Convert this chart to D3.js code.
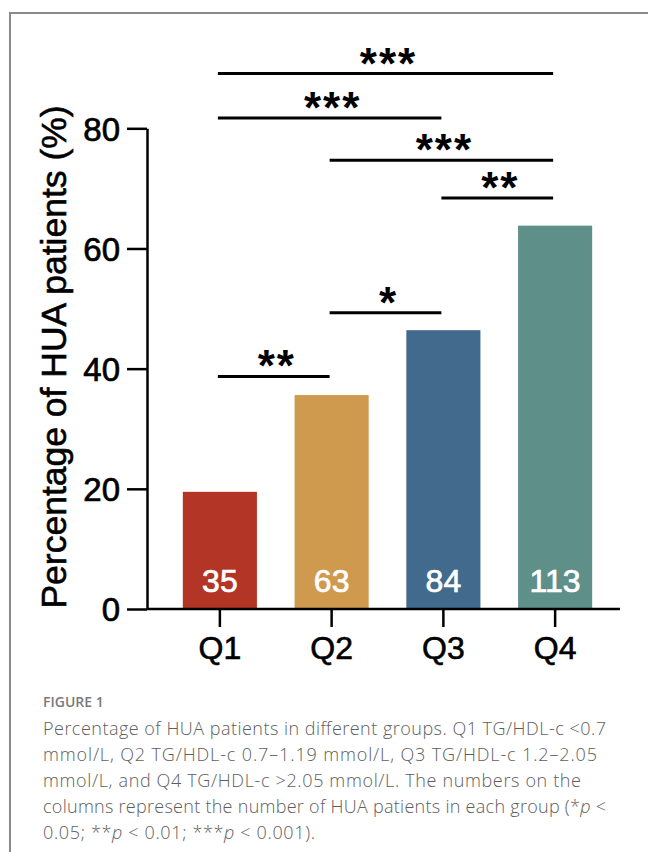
<!DOCTYPE html>
<html>
<head>
<meta charset="utf-8">
<script src="https://cdn.jsdelivr.net/npm/d3@7/dist/d3.min.js"></script>
<style>
  html, body { margin: 0; padding: 0; background: #fff; }
  svg { display: block; }
</style>
</head>
<body>
<svg id="chart" width="648" height="852"></svg>
<script>
// ---- data ----
const categories = ["Q1", "Q2", "Q3", "Q4"];
const percentages = [19.5, 35.6, 46.4, 63.8];
const counts = [35, 63, 84, 113];
const barColors = ["#B33526", "#CF994E", "#426A8D", "#5E9089"];
const yTicks = [0, 20, 40, 60, 80];
const yTitle = "Percentage of HUA patients (%)";
// significance brackets: from group, to group, level (in % units), label
const bracketFrom = ["Q1", "Q1", "Q2", "Q3", "Q2", "Q1"];
const bracketTo = ["Q4", "Q3", "Q4", "Q4", "Q3", "Q2"];
const bracketLevel = [89.1, 81.7, 74.7, 68.4, 49.3, 38.7];
const bracketLabel = ["***", "***", "***", "**", "*", "**"];
const captionTitle = "FIGURE 1";
const captionLines = [
  [["Percentage of HUA patients in different groups. Q1 TG/HDL-c <0.7", false]],
  [["mmol/L, Q2 TG/HDL-c 0.7\u20131.19 mmol/L, Q3 TG/HDL-c 1.2\u20132.05", false]],
  [["mmol/L, and Q4 TG/HDL-c >2.05 mmol/L. The numbers on the", false]],
  [["columns represent the number of HUA patients in each group (*", false], ["p", true], [" <", false]],
  [["0.05; **", false], ["p", true], [" < 0.01; ***", false], ["p", true], [" < 0.001).", false]]
];
const captionWidths = [563, 554, 538, 563, 272];

// ---- drawing ----
const svg = d3.select("#chart");
const font = "'Liberation Sans', Arial, Helvetica, sans-serif";

// frame
svg.append("rect")
  .attr("x", 10).attr("y", 13).attr("width", 700).attr("height", 900)
  .attr("fill", "none").attr("stroke", "#8a8a8a").attr("stroke-width", 2);

const x = d3.scaleBand()
  .domain(categories)
  .range([164, 611])
  .paddingInner(0.337)
  .paddingOuter(0.1685);

const y = d3.scaleLinear().domain([0, 80]).range([609, 128.3]);

const g = svg.append("g");

// bars
g.selectAll("rect.bar")
  .data(categories)
  .join("rect")
  .attr("class", "bar")
  .attr("x", d => x(d))
  .attr("width", x.bandwidth())
  .attr("y", (d, i) => y(percentages[i]))
  .attr("height", (d, i) => y(0) - y(percentages[i]))
  .attr("fill", (d, i) => barColors[i]);

// count labels
g.selectAll("text.count")
  .data(categories)
  .join("text")
  .attr("class", "count")
  .attr("x", d => x(d) + x.bandwidth() / 2)
  .attr("y", y(0) - 17)
  .attr("text-anchor", "middle")
  .attr("fill", "#fff")
  .attr("stroke", "#fff").attr("stroke-width", 0.7)
  .style("font-family", font)
  .style("font-size", "32px")
  .text((d, i) => counts[i]);

// y axis
const yAxis = g.append("g")
  .attr("transform", `translate(147,0)`)
  .call(d3.axisLeft(y).tickValues(yTicks).tickSize(20).tickSizeOuter(0).tickPadding(7));
yAxis.select(".domain").attr("stroke", "#000").attr("stroke-width", 2.5);
yAxis.selectAll(".tick line").attr("stroke", "#000").attr("stroke-width", 2.5);
yAxis.selectAll(".tick text")
  .style("font-family", font).style("font-size", "33px")
  .attr("fill", "#000").attr("stroke", "#000").attr("stroke-width", 0.7)
  .attr("dy", "0.36em");

// x axis
const xAxis = g.append("g")
  .attr("transform", `translate(0,${y(0)})`)
  .call(d3.axisBottom(x).tickSize(18).tickSizeOuter(0).tickPadding(9));
xAxis.select(".domain").remove();
xAxis.append("line")
  .attr("x1", 147).attr("x2", 620).attr("y1", 0).attr("y2", 0)
  .attr("stroke", "#000").attr("stroke-width", 2.5);
xAxis.selectAll(".tick line").attr("stroke", "#000").attr("stroke-width", 2.5);
xAxis.selectAll(".tick text")
  .style("font-family", font).style("font-size", "32px")
  .attr("fill", "#000").attr("stroke", "#000").attr("stroke-width", 0.6);

// y title
svg.append("text")
  .attr("transform", `translate(66,357) rotate(-90)`)
  .attr("text-anchor", "middle")
  .style("font-family", font)
  .style("font-size", "35.5px")
  .attr("fill", "#000").attr("stroke", "#000").attr("stroke-width", 0.6)
  .text(yTitle);

// significance brackets
const center = c => x(c) + x.bandwidth() / 2;
const br = g.selectAll("g.bracket")
  .data(bracketLabel.map((l, i) => i))
  .join("g").attr("class", "bracket");
br.append("line")
  .attr("x1", i => center(bracketFrom[i]) - 2)
  .attr("x2", i => center(bracketTo[i]) - 2)
  .attr("y1", i => y(bracketLevel[i]))
  .attr("y2", i => y(bracketLevel[i]))
  .attr("stroke", "#000").attr("stroke-width", 3);
br.append("text")
  .attr("x", i => (center(bracketFrom[i]) + center(bracketTo[i])) / 2 + 1)
  .attr("y", i => y(bracketLevel[i]) + 5)
  .attr("text-anchor", "middle")
  .style("font-family", font)
  .style("font-weight", "bold")
  .style("font-size", "44px")
  .style("letter-spacing", "2px")
  .attr("fill", "#000")
  .text(i => bracketLabel[i]);

// caption
const capFont = "'Open Sans', 'Noto Sans', sans-serif";
svg.append("text")
  .attr("x", 43).attr("y", 707)
  .style("font-family", capFont).style("font-size", "14px").style("font-weight", 600)
  .attr("fill", "#7a7a7a")
  .text(captionTitle);

captionLines.forEach((parts, li) => {
  const t = svg.append("text")
    .attr("x", 43).attr("y", 735 + li * 26)
    .attr("textLength", captionWidths[li])
    .attr("lengthAdjust", "spacing")
    .style("font-family", capFont).style("font-size", "18px").style("font-weight", 300)
    .attr("fill", "#5e5e5e");
  parts.forEach(([s, it]) => {
    t.append("tspan").style("font-style", it ? "italic" : "normal").text(s);
  });
});
</script>
</body>
</html>
